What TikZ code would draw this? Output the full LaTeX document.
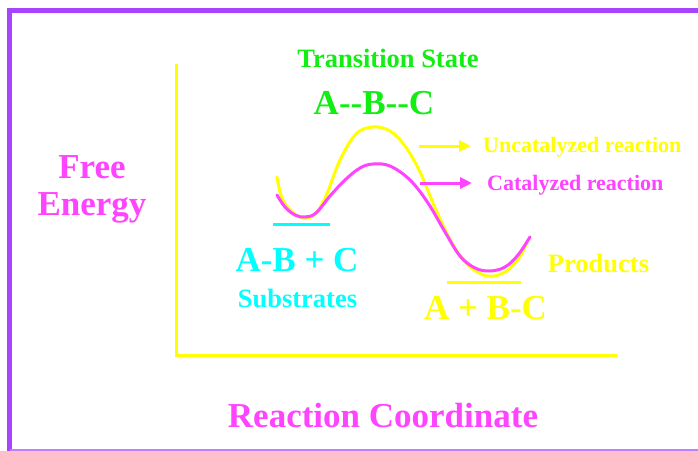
\documentclass[tikz,border=0pt]{standalone}
\usepackage{fontspec}
\setmainfont{Liberation Serif}
\usetikzlibrary{arrows.meta}
\definecolor{ylw}{HTML}{FFFF00}
\definecolor{mag}{HTML}{FF44FF}
\definecolor{grn}{HTML}{11EE11}
\definecolor{cyn}{HTML}{00FFFF}
\definecolor{prp}{HTML}{A844FF}
\tikzset{
  lbl/.style={inner sep=0pt,anchor=base,font=\bfseries},
  big/.style={lbl,font=\fontsize{35}{38}\selectfont\bfseries},
  mid/.style={lbl,font=\fontsize{26.5}{30}\selectfont\bfseries},
  sml/.style={lbl,font=\fontsize{22}{26}\selectfont\bfseries},
  axis/.style={ylw,line width=3pt},
  curve/.style={line width=3pt,line join=round,line cap=round},
  level/.style={line width=3pt},
  ptr/.style={line width=3pt,-{Triangle[length=12pt,width=11pt]}}
}
\begin{document}
\begin{tikzpicture}[x=1pt,y=-1pt]
\useasboundingbox (0,0) rectangle (698,450);
\fill[white] (0,0) rectangle (698,450);
% frame
\draw[prp,line width=5pt] (9.5,460) -- (9.5,10) -- (710,10);
\draw[prp!70,line width=2pt] (9.5,449.5) -- (710,449.5);
% axes
\coordinate (top) at (176,64);
\coordinate (org) at (176,355);
\coordinate (xend) at (617,355);
\draw[axis] (top) -- (org) -- (xend);
% curves
\draw[ylw,curve] plot[smooth,tension=0.6] coordinates {
 (277,177) (282,198) (292,212) (304,218) (315,214) (326,196) (340,160)
 (356,134) (373,127) (390,131) (405,146) (420,172) (436,210) (452,243)
 (468,265) (487,276) (505,272) (519,258) (527,242)};
\draw[mag,curve] plot[smooth,tension=0.6] coordinates {
 (277,195) (285,207) (295,215) (305,217) (316,213) (330,196) (345,180)
 (360,168) (373,164) (390,166) (410,180) (428,203) (445,232) (460,256)
 (475,268) (490,271) (505,267) (518,255) (530,237)};
% energy levels
\coordinate (s1) at (273,224); \coordinate (s2) at (330,224);
\coordinate (p1) at (447,282); \coordinate (p2) at (521,282);
\draw[cyn,level] (s1) -- (s2);
\draw[ylw,level] (p1) -- (p2);
% pointers
\coordinate (ua) at (419,146); \coordinate (ub) at (471,146);
\coordinate (ca) at (420,183); \coordinate (cb) at (472,183);
\draw[ylw,ptr] (ua) -- (ub);
\draw[mag,ptr] (ca) -- (cb);
% labels
\node[mid,grn] (ts) at (388,67) {Transition State};
\node[big,grn] (abc) at (374,114) {A{-}{-}B{-}{-}C};
\node[big,mag] (free) at (92,178) {Free};
\node[big,mag] (energy) at (92,215) {Energy};
\node[big,cyn] (sub) at (297,271) {A-B + C};
\node[mid,cyn] (subs) at (297.5,307) {Substrates};
\node[mid,ylw] (prodl) at (598.5,272) {Products};
\node[big,ylw] (prod) at (485.5,319) {A + B-C};
\node[sml,ylw,anchor=base west] (unc) at (483,152) {Uncatalyzed reaction};
\node[sml,mag,anchor=base west] (cat) at (487,190) {Catalyzed reaction};
\node[big,mag] (rc) at (383,427) {Reaction Coordinate};
\end{tikzpicture}
\end{document}
